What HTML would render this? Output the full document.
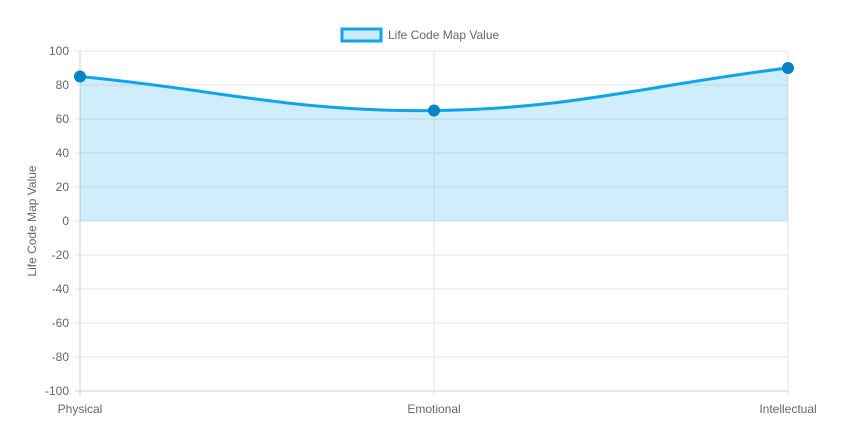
<!DOCTYPE html>
<html><head><meta charset="utf-8"><style>
html,body{margin:0;padding:0;background:#fff;width:843px;height:439px;overflow:hidden}
svg text{font-family:"Liberation Sans",Arial,sans-serif;fill:#666;font-size:12px}
</style></head><body>
<svg id="chart" width="843" height="439" xmlns="http://www.w3.org/2000/svg">
<g id="grid"></g>
<g id="series"></g>
<g id="axes"></g>
<g>
<rect x="342" y="29" width="39" height="12" fill="#cfeaf9" stroke="#0ea5e9" stroke-width="3"/>
<text x="388" y="39">Life Code Map Value</text>
</g>
<text transform="translate(36,221) rotate(-90)" text-anchor="middle">Life Code Map Value</text>
</svg>
<script>
const categories=["Physical","Emotional","Intellectual"];
const values=[85,65,90];
const yTicks=[100,80,60,40,20,0,-20,-40,-60,-80,-100];
const NS="http://www.w3.org/2000/svg";
const L=80,R=788,T=51,B=391;
function xs(i){return L+i*(R-L)/(categories.length-1);}
function ys(v){return T+(100-v)*(B-T)/200;}
function mk(tag,attrs,parent){const e=document.createElementNS(NS,tag);for(const k in attrs)e.setAttribute(k,attrs[k]);parent.appendChild(e);return e;}
const grid=document.getElementById('grid'),axes=document.getElementById('axes'),series=document.getElementById('series');
yTicks.forEach(v=>{
 const y=ys(v);
 const ln=mk('line',{x1:L-5,x2:R,y1:y,y2:y,stroke:v===-100?'#ccc':'#e5e5e5','stroke-width':1},grid);
 
 
 const t=mk('text',{x:L-11,y:y+4,'text-anchor':'end'},axes);
 t.textContent=v;
 
 
});
categories.forEach((c,i)=>{
 const x=xs(i);
 const ln=mk('line',{x1:x,x2:x,y1:T,y2:B+5,stroke:i===0?'#ccc':'#e5e5e5','stroke-width':1},grid);
 
 
 const t=mk('text',{x:x,y:413,'text-anchor':'middle'},axes);
 t.textContent=c;
 
 
});
const pts=values.map((v,i)=>({x:xs(i),y:ys(v)}));
const tension=0.4;
const cps=pts.map((p,i)=>{
 const pr=pts[i-1]||p,nx=pts[i+1]||p;
 const d01=Math.hypot(p.x-pr.x,p.y-pr.y),d12=Math.hypot(nx.x-p.x,nx.y-p.y);
 let s01=d01/(d01+d12),s12=d12/(d01+d12);
 if(isNaN(s01))s01=0;if(isNaN(s12))s12=0;
 const fa=tension*s01,fb=tension*s12;
 const cl=v=>Math.max(T,Math.min(B,v));
 return{px:p.x-fa*(nx.x-pr.x),py:cl(p.y-fa*(nx.y-pr.y)),nx:p.x+fb*(nx.x-pr.x),ny:cl(p.y+fb*(nx.y-pr.y))};
});
let d=`M${pts[0].x},${pts[0].y}`;
for(let i=1;i<pts.length;i++){d+=` C${cps[i-1].nx},${cps[i-1].ny} ${cps[i].px},${cps[i].py} ${pts[i].x},${pts[i].y}`;}
const area=mk('path',{d:d+` L${pts[pts.length-1].x},${ys(0)} L${pts[0].x},${ys(0)} Z`,fill:'rgba(14,165,233,0.2)'},series);


const line=mk('path',{d:d,fill:'none',stroke:'#0ea5e9','stroke-width':3},series);


pts.forEach((p,i)=>{
 const c=mk('circle',{cx:p.x,cy:p.y,r:5.5,fill:'#0284c7',stroke:'#0284c7','stroke-width':1},series);
 
 
});
</script>
</body></html>
